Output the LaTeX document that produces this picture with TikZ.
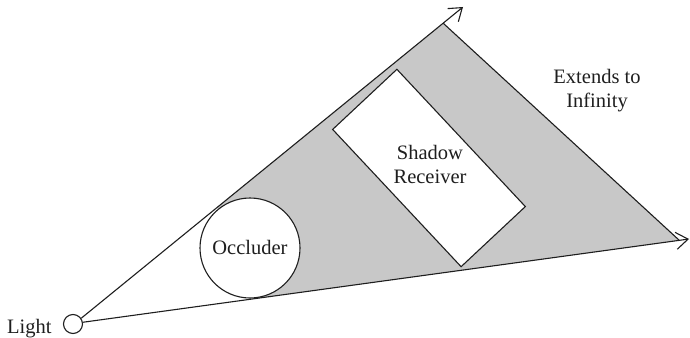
\documentclass[tikz,border=0pt]{standalone}
\usepackage{fontspec}
\setmainfont{Liberation Serif}
\usetikzlibrary{calc,arrows.meta}
\definecolor{shadowgray}{RGB}{200,200,200}
\definecolor{ink}{RGB}{30,30,30}
\tikzset{
  rayline/.style={draw=ink, line width=1.1pt, -{Straight Barb[length=12pt,width=17pt,line width=1.1pt]}},
  faredge/.style={draw=ink, line width=1.1pt},
  solidbox/.style={draw=ink, line width=1.1pt, fill=white},
  lbl/.style={font=\fontsize{20.5}{24}\selectfont, text=ink, inner sep=0pt, align=center}
}
\begin{document}
\begin{tikzpicture}[x=1pt,y=-1pt]
\useasboundingbox (0,0) rectangle (690,337);
% nodes
\node[solidbox, circle, minimum size=19pt, inner sep=0pt] (light) at (73,324) {};
\node[lbl, anchor=base west] (lighttxt) at (7,333) {Light};
\coordinate (U) at (463,7);
\coordinate (D) at (689,239);
\coordinate (C) at (250,248);
% shadow region
\coordinate (T1) at ($(light.35)!(C)!(U)$);
\coordinate (T2) at ($(light.10)!(C)!(D)$);
\coordinate (A) at ($(light.35)!0.948!(U)$);
\coordinate (B) at ($(light.10)!0.984!(D)$);
\fill[shadowgray] (T1) -- (A) -- (B) -- (T2) -- (C) -- cycle;
% rays
\draw[rayline] (light.35) -- (U);
\draw[rayline] (light.10) -- (D);
\draw[faredge] (A) -- (B);
% occluder
\node[solidbox, circle, minimum size=100pt, inner sep=0pt] (occ) at (C) {};
\node[lbl] (occtxt) at (250,247) {Occluder};
% receiver
\node[solidbox, rectangle, minimum width=188pt, minimum height=88pt, rotate=-46.9] (rcv) at (429,168) {};
\node[lbl] (rcvtxt) at (430,164) {Shadow\\Receiver};
% infinity label
\node[lbl] (inf) at (597,91) {Extends to\\Infinity};
\end{tikzpicture}
\end{document}
